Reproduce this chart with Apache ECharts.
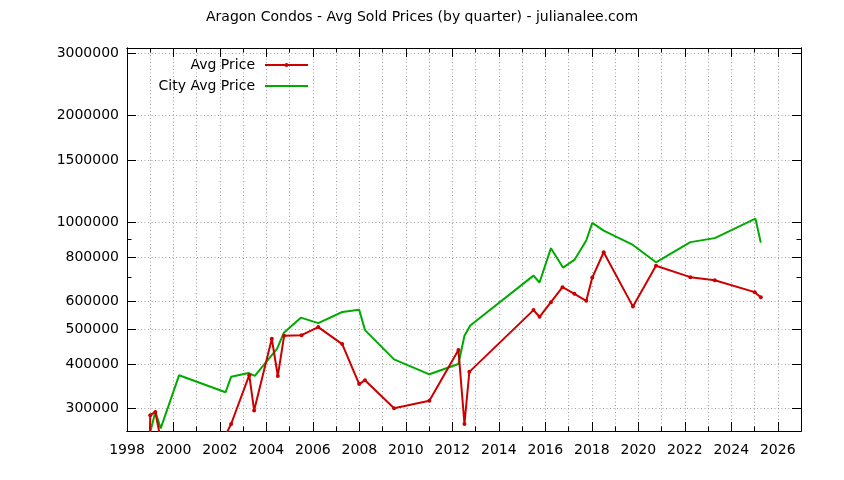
<!DOCTYPE html>
<html>
<head>
<meta charset="utf-8">
<script src="https://cdn.jsdelivr.net/npm/echarts@6/dist/echarts.min.js"></script>
<style>
html,body{margin:0;padding:0;background:#fff;}
#chart{width:844px;height:480px;}
</style>
</head>
<body>
<div id="chart"></div>
<script>
const titleText = 'Aragon Condos - Avg Sold Prices (by quarter) - julianalee.com';
const seriesNames = ['Avg Price', 'City Avg Price'];

const avgYears = [1998.92, 1999.0, 1999.22, 1999.45, 2002.24, 2002.48, 2003.26, 2003.47, 2004.23, 2004.49, 2004.76, 2005.51, 2006.23, 2007.26, 2007.99, 2008.24, 2009.49, 2011.01, 2012.26, 2012.52, 2012.73, 2015.49, 2015.75, 2016.24, 2016.74, 2017.25, 2017.76, 2018.02, 2018.51, 2019.77, 2020.76, 2022.24, 2023.29, 2025.01, 2025.27];
const avgPrices = [150000, 287000, 293000, 245000, 252000, 271000, 372000, 296000, 471000, 370000, 480000, 482000, 508000, 455000, 351000, 360000, 300000, 315000, 438000, 271000, 380000, 567000, 543000, 597000, 658000, 630000, 602000, 700000, 825000, 580000, 756000, 702000, 688000, 637000, 616000];

const cityYears = [1998.92, 1999.22, 1999.45, 2000.24, 2002.24, 2002.48, 2003.24, 2003.5, 2004.46, 2004.75, 2005.48, 2006.23, 2007.26, 2007.99, 2008.24, 2009.49, 2011.01, 2012.26, 2012.52, 2012.77, 2015.49, 2015.75, 2016.24, 2016.76, 2017.25, 2017.76, 2018.02, 2018.51, 2019.77, 2020.76, 2022.24, 2023.29, 2025.04, 2025.27];
const cityPrices = [245000, 293500, 263500, 371600, 333000, 368000, 377000, 370000, 442000, 490000, 540000, 521000, 560000, 568000, 498000, 412000, 374000, 400000, 480000, 513000, 709000, 678000, 847000, 747000, 785000, 890000, 998000, 949000, 865000, 773000, 881000, 904000, 1026000, 878000];

const yMajorTicks = [300000, 400000, 500000, 600000, 800000, 1000000, 1500000, 2000000, 3000000];
const yMinorTicks = [700000, 900000];
const xLabelYears = [1998, 2000, 2002, 2004, 2006, 2008, 2010, 2012, 2014, 2016, 2018, 2020, 2022, 2024, 2026];

const FONT = 'DejaVu Sans, sans-serif';
const FS = 14;
const X_MIN = 1998, X_MAX = 2027, Y_MIN = 259000, Y_MAX = 3100000;
const gridLine = { show: true, lineStyle: { color: '#a0a0a0', width: 1, type: [1, 2.5] } };
const blackLine = { show: true, lineStyle: { color: '#000', width: 1 } };

function xAxisDef(position, interval, tickLen, opts) {
  return Object.assign({
    type: 'value', min: X_MIN, max: X_MAX, interval: interval, position: position,
    axisLine: blackLine,
    axisTick: { show: true, inside: true, length: tickLen, lineStyle: { color: '#000', width: 1 } },
    axisLabel: { show: false },
    splitLine: { show: false }
  }, opts || {});
}
function yAxisDef(position, ticks, tickLen, opts) {
  return Object.assign({
    type: 'log', logBase: 10, min: Y_MIN, max: Y_MAX, position: position,
    axisLine: blackLine,
    axisTick: { show: true, inside: true, length: tickLen, customValues: ticks, lineStyle: { color: '#000', width: 1 } },
    axisLabel: { show: false },
    splitLine: { show: false }
  }, opts || {});
}

const legendText = { fontFamily: FONT, fontSize: FS, color: '#000', padding: [0, 5, 0, 0] };

const chart = echarts.init(document.getElementById('chart'), null, { renderer: 'canvas' });
chart.setOption({
  backgroundColor: '#fff',
  animation: false,
  title: {
    text: titleText, left: 'center', top: 10, padding: 0,
    textStyle: { fontFamily: FONT, fontSize: FS, fontWeight: 'normal', color: '#000' }
  },
  legend: [
    { data: [seriesNames[0]], orient: 'vertical', align: 'right', right: 535, top: 58, padding: 0,
      itemWidth: 43, itemHeight: 5, textStyle: legendText },
    { data: [{ name: seriesNames[1], itemStyle: { opacity: 0 } }], orient: 'vertical', align: 'right', right: 535, top: 79, padding: 0,
      itemWidth: 43, itemHeight: 5, textStyle: legendText }
  ],
  grid: { left: 127, right: 43, top: 48, bottom: 49, containLabel: false },
  xAxis: [
    xAxisDef('bottom', 2, 9, {
      axisLabel: { show: true, margin: 12, color: '#000', fontFamily: FONT, fontSize: FS,
        formatter: function (v) { return xLabelYears.indexOf(v) >= 0 ? String(v) : ''; } }
    }),
    xAxisDef('bottom', 1, 4.5, { splitLine: gridLine }),
    xAxisDef('top', 2, 9),
    xAxisDef('top', 1, 4.5)
  ],
  yAxis: [
    yAxisDef('left', yMajorTicks, 9, {
      axisLabel: { show: true, margin: 8, customValues: yMajorTicks, color: '#000', fontFamily: FONT, fontSize: FS,
        formatter: function (v) { return String(Math.round(v)); } },
      splitLine: gridLine
    }),
    yAxisDef('left', yMinorTicks, 4.5),
    yAxisDef('right', yMajorTicks, 9),
    yAxisDef('right', yMinorTicks, 4.5)
  ],
  series: [
    {
      name: seriesNames[0], type: 'line', xAxisIndex: 0, yAxisIndex: 0,
      data: avgYears.map((x, i) => [x, avgPrices[i]]),
      symbol: 'circle', symbolSize: 4, showSymbol: true,
      lineStyle: { color: '#cc0000', width: 2 }, itemStyle: { color: '#cc0000' },
      clip: true, z: 3
    },
    {
      name: seriesNames[1], type: 'line', xAxisIndex: 0, yAxisIndex: 0,
      data: cityYears.map((x, i) => [x, cityPrices[i]]),
      symbol: 'none', showSymbol: false,
      lineStyle: { color: '#00aa00', width: 2 }, itemStyle: { color: '#00aa00' },
      clip: true, z: 2
    }
  ]
});
</script>
</body>
</html>
